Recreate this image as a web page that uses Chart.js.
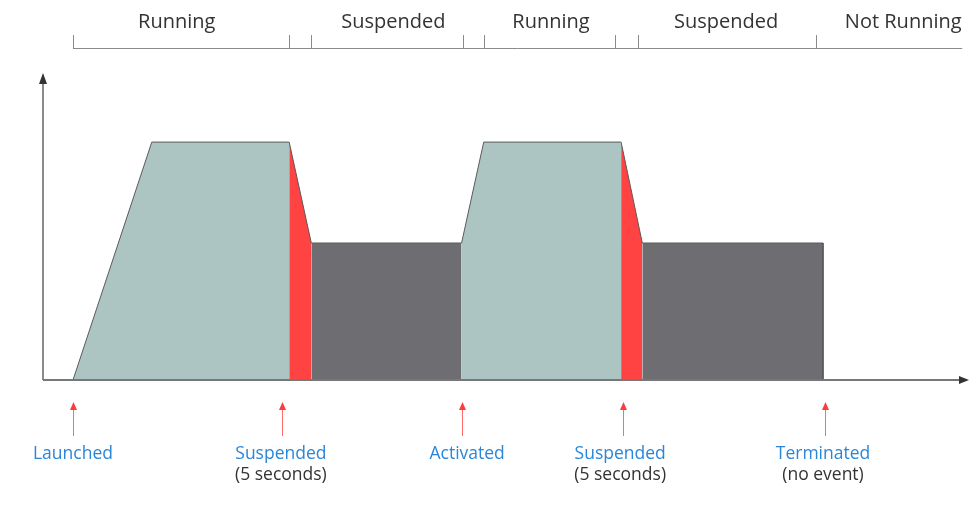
<!DOCTYPE html>
<html>
<head>
<meta charset="utf-8">
<script src="https://cdn.jsdelivr.net/npm/chart.js@4/dist/chart.umd.min.js"></script>
<style>
  body { margin: 0; background: #fff; }
  #wrap { width: 977px; height: 506px; }
</style>
</head>
<body>
<div id="wrap"><canvas id="lifecycle" width="977" height="506"></canvas></div>
<script>
"use strict";

// levels (arbitrary units): running = 100, suspended = 57.6
var running1 = [{x: 3.25, y: 0}, {x: 11.8, y: 100}, {x: 26.7, y: 100}];
var suspending1 = [{x: 26.7, y: 100}, {x: 29.1, y: 57.6}];
var suspended1 = [{x: 29.1, y: 57.6}, {x: 45.4, y: 57.6}];
var running2 = [{x: 45.4, y: 57.6}, {x: 47.8, y: 100}, {x: 62.7, y: 100}];
var suspending2 = [{x: 62.7, y: 100}, {x: 65.0, y: 57.6}];
var suspended2 = [{x: 65.0, y: 57.6}, {x: 84.6, y: 57.6}, {x: 84.6, y: 0}];

// top band: states
var stateNames = ['Running', 'Suspended', 'Running', 'Suspended', 'Not Running'];
var stateCenters = [14.5, 38.0, 55.1, 74.1, 93.3];
var stateTicks = [3.25, 26.7, 29.1, 45.6, 47.8, 62.0, 64.5, 83.8];
var bandEnd = 99.7;

// bottom: events
var eventTimes = [3.25, 25.9, 45.4, 62.9, 84.8];
var eventLabelAt = [3.25, 25.8, 46.0, 62.6, 84.6];
var eventNames = ['Launched', 'Suspended', 'Activated', 'Suspended', 'Terminated'];
var eventNotes = ['', '(5 seconds)', '', '(5 seconds)', '(no event)'];

var TEAL = '#acc4c2';
var RED = '#ff4242';
var GRAY = '#6e6d72';
var EDGE = '#5a5a5a';

function area(points, color) {
	return {
		data: points,
		backgroundColor: color,
		borderColor: EDGE,
		borderWidth: 1,
		fill: 'origin',
		pointRadius: 0,
		tension: 0
	};
}

var overlay = {
	id: 'overlay',
	afterDatasetsDraw: function (chart) {
		var ctx = chart.ctx;
		var xs = chart.scales.x;
		var ys = chart.scales.y;
		var y0 = ys.getPixelForValue(0);
		var xLeft = xs.getPixelForValue(0);
		var xRight = xs.getPixelForValue(100);
		ctx.save();

		// axes
		ctx.strokeStyle = '#8a8a8a';
		ctx.lineWidth = 2;
		ctx.beginPath();
		ctx.moveTo(xLeft, y0);
		ctx.lineTo(xLeft, 82);
		ctx.stroke();
		ctx.strokeStyle = '#777';
		ctx.beginPath();
		ctx.moveTo(xLeft, y0);
		ctx.lineTo(xRight - 2, y0);
		ctx.stroke();
		ctx.fillStyle = '#333';
		ctx.beginPath();
		ctx.moveTo(xLeft, 73);
		ctx.lineTo(xLeft - 4, 84);
		ctx.lineTo(xLeft + 4, 84);
		ctx.closePath();
		ctx.fill();
		ctx.beginPath();
		ctx.moveTo(xRight + 4, y0);
		ctx.lineTo(xRight - 6, y0 - 4);
		ctx.lineTo(xRight - 6, y0 + 4);
		ctx.closePath();
		ctx.fill();

		// top band
		ctx.strokeStyle = '#8a8a8a';
		ctx.lineWidth = 1;
		ctx.beginPath();
		ctx.moveTo(xs.getPixelForValue(stateTicks[0]), 48.5);
		ctx.lineTo(xs.getPixelForValue(bandEnd), 48.5);
		stateTicks.forEach(function (t) {
			var px = Math.round(xs.getPixelForValue(t)) + 0.5;
			ctx.moveTo(px, 35);
			ctx.lineTo(px, 48.5);
		});
		ctx.stroke();
		ctx.fillStyle = '#333';
		ctx.font = '20px "Open Sans"';
		ctx.textAlign = 'center';
		ctx.textBaseline = 'middle';
		stateNames.forEach(function (name, i) {
			ctx.fillText(name, xs.getPixelForValue(stateCenters[i]), 22);
		});

		// events
		eventTimes.forEach(function (t, i) {
			var px = Math.round(xs.getPixelForValue(t)) + 0.5;
			ctx.strokeStyle = '#ff6b6b';
			ctx.lineWidth = 1;
			ctx.beginPath();
			ctx.moveTo(px, 408);
			ctx.lineTo(px, 436);
			ctx.stroke();
			ctx.fillStyle = '#ff3b3b';
			ctx.beginPath();
			ctx.moveTo(px, 402);
			ctx.lineTo(px - 3.5, 410);
			ctx.lineTo(px + 3.5, 410);
			ctx.closePath();
			ctx.fill();

			var lx = xs.getPixelForValue(eventLabelAt[i]);
			ctx.font = '17.5px "Open Sans"';
			ctx.fillStyle = '#2a86d8';
			ctx.fillText(eventNames[i], lx, 454);
			if (eventNotes[i]) {
				ctx.fillStyle = '#333';
				ctx.fillText(eventNotes[i], lx, 475);
			}
		});
		ctx.restore();
	}
};

new Chart(document.getElementById('lifecycle'), {
	type: 'line',
	data: {
		datasets: [
			area(running1, TEAL),
			area(suspending1, RED),
			area(suspended1, GRAY),
			area(running2, TEAL),
			area(suspending2, RED),
			area(suspended2, GRAY)
		]
	},
	options: {
		responsive: false,
		animation: false,
		layout: { padding: { left: 43, right: 12, top: 0, bottom: 0 } },
		plugins: { legend: { display: false }, tooltip: { enabled: false } },
		scales: {
			x: { type: 'linear', min: 0, max: 100, display: false },
			y: { min: -52.9, max: 159.7, display: false }
		}
	},
	plugins: [overlay]
});
</script>
</body>
</html>
